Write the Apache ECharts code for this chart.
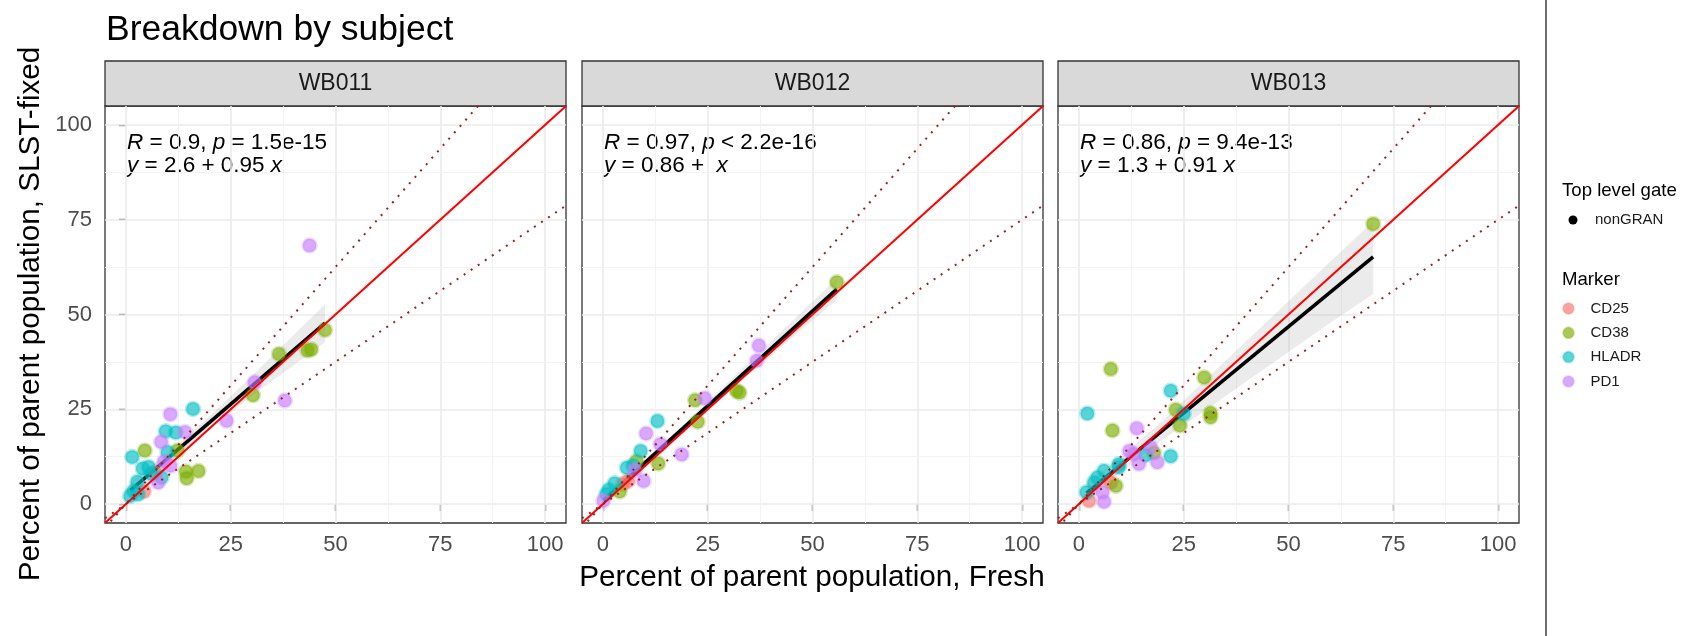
<!DOCTYPE html>
<html>
<head>
<meta charset="utf-8">
<title>Breakdown by subject</title>
<script src="https://cdn.jsdelivr.net/npm/echarts@6/dist/echarts.min.js"></script>
<style>
  html, body { margin: 0; padding: 0; background: #fff; }
  #chart { width: 1697px; height: 636px; }
</style>
</head>
<body>
<div id="chart"></div>
<script>
// Fresh vs SLST-fixed, jeden panel na subjekt (facet), body obarvené podle markeru.

const subjects = ['WB011', 'WB012', 'WB013'];
const markers = ['CD25', 'CD38', 'HLADR', 'PD1'];
const markerColors = ['#F8766D', '#7CAE00', '#00BFC4', '#C77CFF'];
const majorTicks = [0, 25, 50, 75, 100];
const minorTicks = [12.5, 37.5, 62.5, 87.5];

// [Fresh, SLST-fixed]
const wb011Cd25 = [[4.3, 3.3], [7.0, 8.3]];
const wb011Cd38 = [[47.5, 45.9], [43.3, 40.5], [44.2, 40.8], [36.5, 39.6], [30.3, 28.7], [4.5, 14.1], [12.3, 14.1], [14.3, 8.6], [14.5, 6.8], [17.3, 8.7]];
const wb011Hladr = [[16.0, 25.1], [9.5, 19.2], [11.9, 18.9], [9.9, 13.7], [1.5, 12.4], [4.0, 9.4], [5.4, 9.8], [8.5, 7.0], [2.7, 5.9], [1.0, 2.1], [2.9, 2.6], [1.8, 3.4], [6.0, 8.0]];
const wb011Pd1 = [[43.8, 68.2], [30.7, 32.1], [37.9, 27.3], [24.0, 22.0], [10.6, 23.7], [14.1, 19.0], [8.4, 16.4], [9.1, 11.2], [10.6, 10.1], [7.7, 5.7]];

const wb012Cd25 = [[4.8, 5.3], [6.0, 6.1]];
const wb012Cd38 = [[55.8, 58.5], [31.9, 29.8], [32.6, 29.4], [22.0, 27.4], [22.6, 21.7], [13.2, 10.7], [8.0, 11.3], [4.0, 3.3]];
const wb012Hladr = [[13.0, 21.9], [9.0, 14.0], [5.7, 9.6], [7.2, 10.2], [2.8, 5.5], [1.4, 3.8], [0.8, 2.6]];
const wb012Pd1 = [[37.2, 41.8], [36.7, 37.8], [24.3, 27.9], [10.3, 18.6], [13.7, 15.8], [18.8, 13.1], [9.7, 6.1], [7.6, 9.0], [0.1, 0.9]];

const wb013Cd25 = [[7.6, 5.7], [2.4, 0.9]];
const wb013Cd38 = [[70.2, 73.9], [7.6, 35.6], [29.9, 33.4], [23.1, 24.9], [31.4, 24.0], [31.4, 22.9], [24.1, 20.7], [8.0, 19.4], [17.9, 13.5], [8.8, 4.8]];
const wb013Hladr = [[21.9, 29.9], [2.0, 23.9], [25.0, 23.8], [21.9, 12.6], [15.9, 12.9], [9.5, 9.7], [9.5, 10.5], [6.0, 8.8], [4.4, 7.0], [3.6, 5.7], [1.8, 3.1]];
const wb013Pd1 = [[13.8, 20.0], [17.1, 15.0], [13.1, 13.2], [14.3, 10.6], [18.7, 11.0], [5.6, 3.1], [6.0, 0.6], [12.0, 14.0]];

const pointsBySubject = [
  [wb011Cd25, wb011Cd38, wb011Hladr, wb011Pd1],
  [wb012Cd25, wb012Cd38, wb012Hladr, wb012Pd1],
  [wb013Cd25, wb013Cd38, wb013Hladr, wb013Pd1],
];

// lm fit (konce čáry) a interval spolehlivosti
const fitLines = [
  [[1.0, 3.55], [47.5, 47.7]],
  [[0.1, 0.96], [55.8, 56.7]],
  [[1.8, 2.9], [70.2, 65.2]],
];
const ribbonX1 = [1, 10, 20, 30, 40, 47.5];
const ribbonLo1 = [1.6, 10.7, 20.0, 28.5, 36.6, 42.7];
const ribbonHi1 = [5.6, 13.5, 23.2, 33.7, 44.6, 52.7];
const ribbonX2 = [0.1, 10, 20, 30, 40, 55.8];
const ribbonLo2 = [-0.2, 10.0, 19.9, 29.5, 39.0, 53.9];
const ribbonHi2 = [2.1, 11.8, 21.8, 32.3, 42.8, 59.5];
const ribbonX3 = [1.8, 10, 20, 30, 40, 50, 60, 70.2];
const ribbonLo3 = [0.4, 8.4, 17.0, 24.6, 32.4, 40.1, 47.8, 55.4];
const ribbonHi3 = [5.4, 12.4, 22.0, 32.6, 43.0, 53.5, 64.0, 74.6];
const ribbons = [
  [ribbonX1, ribbonLo1, ribbonHi1],
  [ribbonX2, ribbonLo2, ribbonHi2],
  [ribbonX3, ribbonLo3, ribbonHi3],
];

// referenční čáry: y = x a ±25 %
const identityLine = [[-5, -5], [105, 105]];
const upperLine = [[-5, -6.25], [105, 131.25]];
const lowerLine = [[-5, -3.75], [105, 78.75]];

const statLine1 = ['{i|R} = 0.9, {i|p} = 1.5e-15', '{i|R} = 0.97, {i|p} < 2.2e-16', '{i|R} = 0.86, {i|p} = 9.4e-13'];
const statLine2 = ['{i|y} = 2.6 + 0.95 {i|x}', '{i|y} = 0.86 +  {i|x}', '{i|y} = 1.3 + 0.91 {i|x}'];

const FONT = '"Liberation Sans", Arial, Helvetica, sans-serif';
const panelLeft = [105, 582, 1058];
const panelTop = 106;
const panelW = 461;
const panelH = 417;

function hexA(hex, a) {
  const n = parseInt(hex.slice(1), 16);
  return `rgba(${(n >> 16) & 255},${(n >> 8) & 255},${n & 255},${a})`;
}

const grids = [], xAxes = [], yAxes = [], series = [], graphics = [];

panelLeft.forEach((left, i) => {
  grids.push({
    left, top: panelTop, width: panelW, height: panelH,
    show: true, backgroundColor: '#fff', borderColor: '#333', borderWidth: 1.3,
  });
  xAxes.push({
    gridIndex: i, type: 'value', min: -5, max: 105,
    splitLine: { show: false }, axisLine: { show: false },
    axisTick: { show: true, customValues: majorTicks, length: 7, lineStyle: { color: '#333', width: 1.3 } },
    axisLabel: { customValues: majorTicks, fontSize: 22, color: '#4D4D4D', fontFamily: FONT, margin: 11 },
  });
  yAxes.push({
    gridIndex: i, type: 'value', min: -5, max: 105,
    splitLine: { show: false }, axisLine: { show: false },
    axisTick: { show: i === 0, customValues: majorTicks, length: 7, lineStyle: { color: '#333', width: 1.3 } },
    axisLabel: { show: i === 0, customValues: majorTicks, fontSize: 22, color: '#4D4D4D', fontFamily: FONT, margin: 13 },
  });

  // mřížka (theme_bw): major + minor
  const gridMarks = [];
  majorTicks.forEach(v => {
    gridMarks.push({ xAxis: v, lineStyle: { color: '#EBEBEB', width: 1.6, type: 'solid' } });
    gridMarks.push({ yAxis: v, lineStyle: { color: '#EBEBEB', width: 1.6, type: 'solid' } });
  });
  minorTicks.forEach(v => {
    gridMarks.push({ xAxis: v, lineStyle: { color: '#F2F2F2', width: 0.9, type: 'solid' } });
    gridMarks.push({ yAxis: v, lineStyle: { color: '#F2F2F2', width: 0.9, type: 'solid' } });
  });
  series.push({
    type: 'line', xAxisIndex: i, yAxisIndex: i, z: 1, silent: true,
    data: [[-100, -100]], symbol: 'none', lineStyle: { width: 0 },
    markLine: {
      z: 1, silent: true, symbol: 'none', label: { show: false }, animation: false,
      lineStyle: { type: 'solid' }, emphasis: { disabled: true }, data: gridMarks,
    },
  });

  // pás spolehlivosti
  const [rx, rlo, rhi] = ribbons[i];
  series.push({
    type: 'custom', xAxisIndex: i, yAxisIndex: i, z: 2, silent: true,
    data: rx.map((x, k) => [x, rlo[k], rhi[k]]),
    renderItem: (params, api) => {
      if (params.dataIndex !== 0) return null;
      const pts = [];
      rx.forEach((x, k) => pts.push(api.coord([x, rhi[k]])));
      for (let k = rx.length - 1; k >= 0; k--) pts.push(api.coord([rx[k], rlo[k]]));
      return { type: 'polygon', shape: { points: pts }, style: { fill: 'rgba(153,153,153,0.2)' } };
    },
  });

  series.push({
    type: 'line', xAxisIndex: i, yAxisIndex: i, z: 3, silent: true,
    data: fitLines[i], symbol: 'none', lineStyle: { color: '#000', width: 3.6 },
  });

  markers.forEach((m, k) => {
    series.push({
      name: m, type: 'scatter', xAxisIndex: i, yAxisIndex: i, z: 4,
      data: pointsBySubject[i][k], symbolSize: 13.5,
      itemStyle: { color: hexA(markerColors[k], 0.82), borderColor: hexA(markerColors[k], 0.35), borderWidth: 3 },
    });
  });

  series.push({
    type: 'line', xAxisIndex: i, yAxisIndex: i, z: 5, silent: true, clip: true,
    data: identityLine, symbol: 'none', lineStyle: { color: '#FF0000', width: 2 },
  });
  [upperLine, lowerLine].forEach(d => series.push({
    type: 'line', xAxisIndex: i, yAxisIndex: i, z: 5, silent: true, clip: true,
    data: d, symbol: 'none', lineStyle: { color: '#9B1F1F', width: 2, type: [2, 6.5] },
  }));

  // strip s názvem subjektu
  graphics.push({
    type: 'rect', shape: { x: left, y: 61, width: panelW, height: 45 },
    style: { fill: '#D9D9D9', stroke: '#333', lineWidth: 1.3 },
  });
  graphics.push({
    type: 'text', x: left + panelW / 2, y: 84,
    style: { text: subjects[i], fontSize: 23, fill: '#1A1A1A', fontFamily: FONT, align: 'center', verticalAlign: 'middle' },
  });
  // statistiky
  const rich = { i: { fontStyle: 'italic', fontSize: 22.5, fontFamily: FONT, fill: '#000' } };
  graphics.push({
    type: 'text', x: left + 22, y: 143,
    style: { text: statLine1[i], rich, fontSize: 22.5, fontFamily: FONT, fill: '#000', verticalAlign: 'middle' },
  });
  graphics.push({
    type: 'text', x: left + 22, y: 166,
    style: { text: statLine2[i], rich, fontSize: 22.5, fontFamily: FONT, fill: '#000', verticalAlign: 'middle' },
  });
});

// titulky a legenda
graphics.push(
  { type: 'text', x: 106, y: 30, style: { text: 'Breakdown by subject', fontSize: 35.5, fontFamily: FONT, fill: '#000', verticalAlign: 'middle' } },
  { type: 'text', x: 812, y: 578, style: { text: 'Percent of parent population, Fresh', fontSize: 29.7, fontFamily: FONT, fill: '#000', align: 'center', verticalAlign: 'middle' } },
  { type: 'text', x: 31, y: 314, rotation: Math.PI / 2, style: { text: 'Percent of parent population, SLST-fixed', fontSize: 29.7, fontFamily: FONT, fill: '#000', align: 'center', verticalAlign: 'middle' } },
  { type: 'line', shape: { x1: 1546, y1: 0, x2: 1546, y2: 636 }, style: { stroke: '#707070', lineWidth: 2 } },
  { type: 'text', x: 1562, y: 191, style: { text: 'Top level gate', fontSize: 18.6, fontFamily: FONT, fill: '#000', verticalAlign: 'middle' } },
  { type: 'circle', shape: { cx: 1573, cy: 220, r: 4.5 }, style: { fill: '#000' } },
  { type: 'text', x: 1595, y: 220, style: { text: 'nonGRAN', fontSize: 15, fontFamily: FONT, fill: '#1A1A1A', verticalAlign: 'middle' } },
  { type: 'text', x: 1562, y: 280, style: { text: 'Marker', fontSize: 18.6, fontFamily: FONT, fill: '#000', verticalAlign: 'middle' } },
);

const chart = echarts.init(document.getElementById('chart'));
chart.setOption({
  animation: false,
  backgroundColor: '#fff',
  grid: grids,
  xAxis: xAxes,
  yAxis: yAxes,
  legend: {
    data: markers, orient: 'vertical', left: 1562, top: 301, padding: 0,
    icon: 'circle', itemWidth: 22, itemHeight: 11, itemGap: 9.3,
    selectedMode: false,
    textStyle: { fontSize: 15, color: '#1A1A1A', fontFamily: FONT, padding: [0, 0, 0, 6] },
  },
  series,
  graphic: graphics,
});
</script>
</body>
</html>
